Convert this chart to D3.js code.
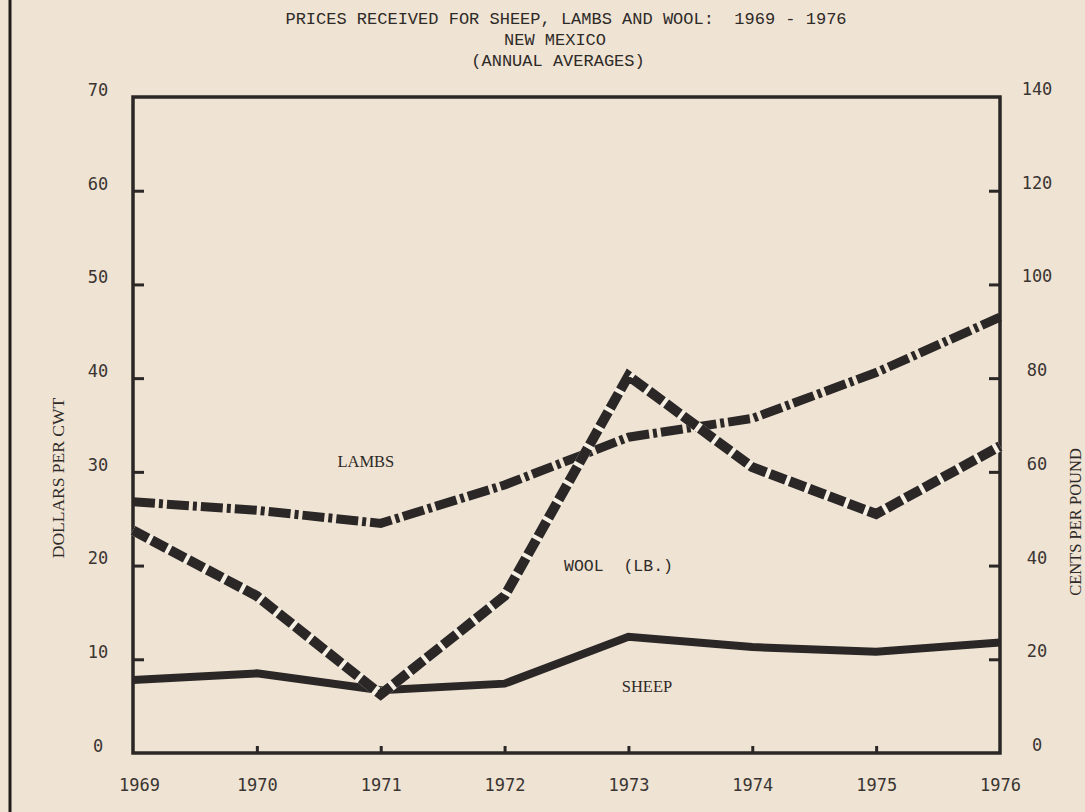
<!DOCTYPE html>
<html>
<head>
<meta charset="utf-8">
<script src="https://cdn.jsdelivr.net/npm/d3@7"></script>
<style>
  body { margin: 0; background: #efe3d3; }
  svg { display: block; }
  .axis text { font-family: "DejaVu Sans Mono", monospace; font-size: 17px; fill: #3a3532; }
  .axis line { stroke: #2b2726; stroke-width: 3; }
  .axis path { display: none; }
  .title { font-family: "Liberation Mono", "Courier New", monospace; font-size: 17px; fill: #2e2a28; white-space: pre; }
</style>
</head>
<body>
<script>
// chart values
var years = [1969, 1970, 1971, 1972, 1973, 1974, 1975, 1976];
var sheep = [7.8, 8.5, 6.7, 7.4, 12.4, 11.3, 10.8, 11.8];      // dollars per cwt
var lambs = [26.8, 25.9, 24.5, 28.6, 33.7, 35.7, 40.6, 46.5];  // dollars per cwt
var wool  = [47.5, 33.5, 12.5, 33.5, 80.5, 61, 51, 65.5];      // cents per pound
var leftTicks = [0, 10, 20, 30, 40, 50, 60, 70];
var rightTicks = [0, 20, 40, 60, 80, 100, 120, 140];
var titleLines = ["PRICES RECEIVED FOR SHEEP, LAMBS AND WOOL:  1969 - 1976", "NEW MEXICO", "(ANNUAL AVERAGES)"];

var W = 1085, H = 812;
var margin = {top: 97, right: 85, bottom: 59, left: 133},
    width = W - margin.left - margin.right,
    height = H - margin.top - margin.bottom;

var ink = "#2b2726";

var svgRoot = d3.select("body").append("svg")
    .attr("width", W)
    .attr("height", H);

// page edge line from the scan
svgRoot.append("line")
    .attr("x1", 10).attr("x2", 10).attr("y1", 0).attr("y2", H)
    .attr("stroke", "#1f1c1b").attr("stroke-width", 3);

// titles
var titleX = [566, 555, 558], titleY = [24, 45, 66];
titleLines.forEach(function(t, i) {
    svgRoot.append("text")
        .attr("class", "title")
        .attr("xml:space", "preserve")
        .attr("x", titleX[i]).attr("y", titleY[i])
        .attr("text-anchor", "middle")
        .text(t);
});

var svg = svgRoot.append("g")
    .attr("transform", "translate(" + margin.left + "," + margin.top + ")");

var x = d3.scaleLinear().domain([1969, 1976]).range([0, width]);
var yL = d3.scaleLinear().domain([0, 70]).range([height, 0]);
var yR = d3.scaleLinear().domain([0, 140]).range([height, 0]);

// left axis, ticks pointing inward
var gl = svg.append("g").attr("class", "axis")
    .call(d3.axisLeft(yL).tickValues(leftTicks).tickSize(-11).tickPadding(0));
gl.selectAll("text").attr("x", -35).attr("dy", "-0.1em").attr("text-anchor", "middle");
gl.selectAll(".tick").filter(function(d) { return d === 0 || d === 70; }).select("line").remove();

// right axis
var gr = svg.append("g").attr("class", "axis")
    .attr("transform", "translate(" + width + ",0)")
    .call(d3.axisRight(yR).tickValues(rightTicks).tickSize(-11).tickPadding(0));
gr.selectAll("text").attr("x", 37).attr("dy", "-0.15em").attr("text-anchor", "middle");
gr.selectAll(".tick").filter(function(d) { return d === 0 || d === 140; }).select("line").remove();

// bottom axis
var gb = svg.append("g").attr("class", "axis")
    .attr("transform", "translate(0," + height + ")")
    .call(d3.axisBottom(x).tickValues(years).tickFormat(d3.format("d")).tickSize(-7).tickPadding(0));
gb.selectAll("text").attr("y", 26).attr("dy", "0.71em")
    .attr("dx", function(d) { return d === 1969 ? 6 : 0; });
gb.selectAll(".tick").filter(function(d) { return d === 1969 || d === 1976; }).select("line").remove();

// frame
svg.append("rect")
    .attr("x", 0).attr("y", 0)
    .attr("width", width).attr("height", height)
    .attr("fill", "none")
    .attr("stroke", ink)
    .attr("stroke-width", 3.5);

var lineL = d3.line()
    .x(function(d, i) { return x(years[i]); })
    .y(function(d) { return yL(d); });
var lineR = d3.line()
    .x(function(d, i) { return x(years[i]); })
    .y(function(d) { return yR(d); });

// sheep: solid
svg.append("path")
    .attr("d", lineL(sheep))
    .attr("fill", "none")
    .attr("stroke", ink)
    .attr("stroke-width", 8)
    .attr("stroke-linejoin", "miter");

// lambs: dash-dot
svg.append("path")
    .attr("d", lineL(lambs))
    .attr("fill", "none")
    .attr("stroke", ink)
    .attr("stroke-width", 9)
    .attr("stroke-dasharray", "22,4,4,4");

// wool: dashed with light cuts
svg.append("path")
    .attr("d", lineR(wool))
    .attr("fill", "none")
    .attr("stroke", "#f6efe4")
    .attr("stroke-width", 10);
svg.append("path")
    .attr("d", lineR(wool))
    .attr("fill", "none")
    .attr("stroke", ink)
    .attr("stroke-width", 10)
    .attr("stroke-dasharray", "17,4");

// series labels
svg.append("text")
    .attr("x", x(1970.88)).attr("y", yL(30.5))
    .attr("text-anchor", "middle")
    .style("font-family", "'Liberation Serif', serif")
    .style("font-size", "16.5px")
    .style("fill", "#2e2a28")
    .text("LAMBS");
svg.append("text")
    .attr("x", x(1972.92)).attr("y", yL(19.4))
    .attr("text-anchor", "middle")
    .attr("xml:space", "preserve")
    .style("white-space", "pre")
    .style("font-family", "'Liberation Mono', monospace")
    .style("font-size", "16.5px")
    .style("fill", "#2e2a28")
    .text("WOOL  (LB.)");
svg.append("text")
    .attr("x", x(1973.15)).attr("y", yL(6.5))
    .attr("text-anchor", "middle")
    .style("font-family", "'Liberation Serif', serif")
    .style("font-size", "16.5px")
    .style("fill", "#2e2a28")
    .text("SHEEP");

// axis titles
svgRoot.append("text")
    .attr("transform", "translate(64,478) rotate(-90)")
    .attr("text-anchor", "middle")
    .style("font-family", "'Liberation Serif', serif")
    .style("font-size", "17.5px")
    .style("fill", "#2e2a28")
    .text("DOLLARS PER CWT");
svgRoot.append("text")
    .attr("transform", "translate(1081,522) rotate(-90)")
    .attr("text-anchor", "middle")
    .style("font-family", "'Liberation Serif', serif")
    .style("font-size", "16.5px")
    .style("fill", "#2e2a28")
    .text("CENTS PER POUND");
</script>
</body>
</html>
